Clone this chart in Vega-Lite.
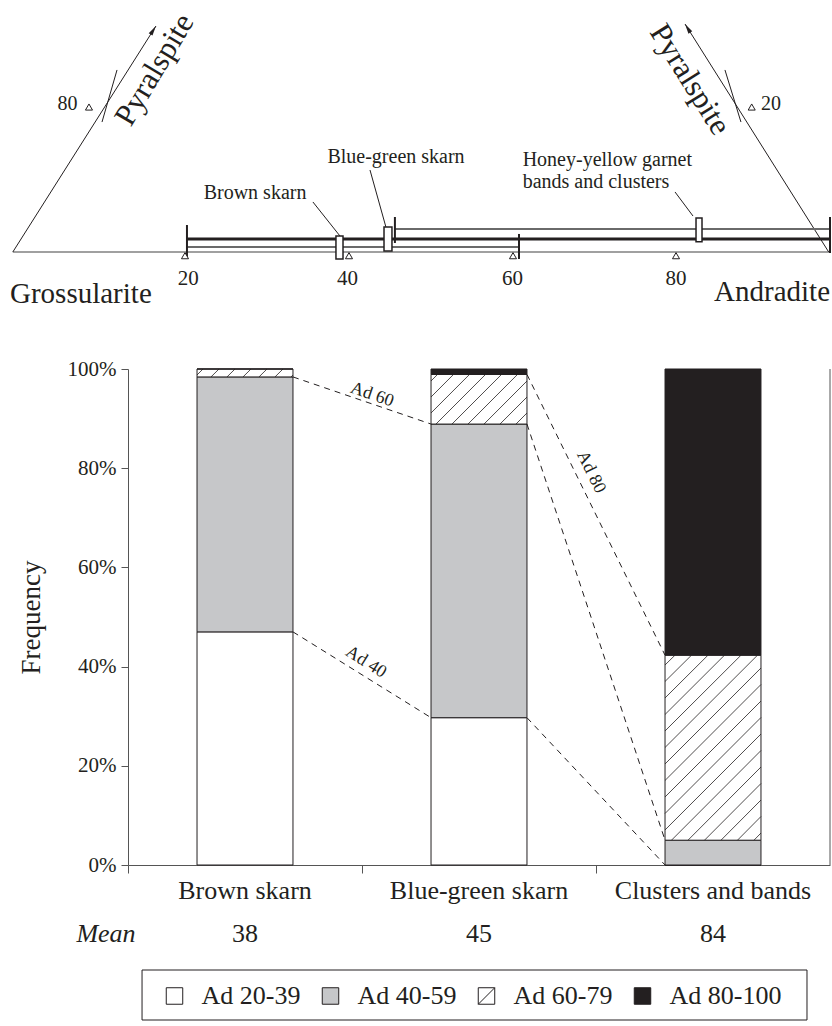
{
  "$schema": "https://vega.github.io/schema/vega-lite/v6.json",
  "width": 702,
  "height": 496,
  "autosize": {"type": "none"},
  "padding": {"left": 128, "top": 369, "right": 2, "bottom": 161},
  "background": "white",
  "config": {
    "view": {"stroke": null},
    "font": "Liberation Serif",
    "text": {"font": "Liberation Serif", "color": "#231f20"},
    "axis": {"labelFont": "Liberation Serif", "titleFont": "Liberation Serif", "labelColor": "#231f20", "titleColor": "#231f20", "domainColor": "#555555", "tickColor": "#555555", "grid": false}
  },
  "datasets": {
    "freq": [
      {"skarn": "Brown skarn", "cls": "Ad 20-39", "pct": 47.0},
      {"skarn": "Brown skarn", "cls": "Ad 40-59", "pct": 51.4},
      {"skarn": "Brown skarn", "cls": "Ad 60-79", "pct": 1.6},
      {"skarn": "Brown skarn", "cls": "Ad 80-100", "pct": 0},
      {"skarn": "Blue-green skarn", "cls": "Ad 20-39", "pct": 29.7},
      {"skarn": "Blue-green skarn", "cls": "Ad 40-59", "pct": 59.2},
      {"skarn": "Blue-green skarn", "cls": "Ad 60-79", "pct": 10.0},
      {"skarn": "Blue-green skarn", "cls": "Ad 80-100", "pct": 1.1},
      {"skarn": "Clusters and bands", "cls": "Ad 20-39", "pct": 0},
      {"skarn": "Clusters and bands", "cls": "Ad 40-59", "pct": 5.0},
      {"skarn": "Clusters and bands", "cls": "Ad 60-79", "pct": 37.3},
      {"skarn": "Clusters and bands", "cls": "Ad 80-100", "pct": 57.7}
    ],
    "classes": [
      {"cls": "Ad 20-39"}, {"cls": "Ad 40-59"}, {"cls": "Ad 60-79"}, {"cls": "Ad 80-100"}
    ],
    "means": [
      {"skarn": "Brown skarn", "mean": 38},
      {"skarn": "Blue-green skarn", "mean": 45},
      {"skarn": "Clusters and bands", "mean": 84}
    ],
    "bounds": [
      {"b": "Ad 40", "x": 0.705, "y": 47.0, "x2": 1.295, "y2": 29.7},
      {"b": "Ad 40", "x": 1.705, "y": 29.7, "x2": 2.295, "y2": 0},
      {"b": "Ad 60", "x": 0.705, "y": 98.4, "x2": 1.295, "y2": 88.9},
      {"b": "Ad 60", "x": 1.705, "y": 88.9, "x2": 2.295, "y2": 5.0},
      {"b": "Ad 80", "x": 1.705, "y": 98.9, "x2": 2.295, "y2": 42.3}
    ],
    "boundLabels": [
      {"t": "Ad 40", "x": 1.017, "y": 40.9, "tilt": 32},
      {"t": "Ad 60", "x": 1.043, "y": 94.8, "tilt": 19},
      {"t": "Ad 80", "x": 1.979, "y": 79.2, "tilt": 64}
    ],
    "hatch": [
      {"x": 0.2949, "y": 98.79, "x2": 0.3205, "y2": 100},
      {"x": 0.3547, "y": 98.4, "x2": 0.3889, "y2": 100},
      {"x": 0.4231, "y": 98.4, "x2": 0.4573, "y2": 100},
      {"x": 0.4915, "y": 98.4, "x2": 0.5256, "y2": 100},
      {"x": 0.5598, "y": 98.4, "x2": 0.594, "y2": 100},
      {"x": 0.6282, "y": 98.4, "x2": 0.6624, "y2": 100},
      {"x": 0.6966, "y": 98.4, "x2": 0.7051, "y2": 98.79},
      {"x": 1.2949, "y": 97.58, "x2": 1.3226, "y2": 98.9},
      {"x": 1.2949, "y": 94.35, "x2": 1.391, "y2": 98.9},
      {"x": 1.2949, "y": 91.13, "x2": 1.4594, "y2": 98.9},
      {"x": 1.3162, "y": 88.9, "x2": 1.5278, "y2": 98.9},
      {"x": 1.3846, "y": 88.9, "x2": 1.5962, "y2": 98.9},
      {"x": 1.453, "y": 88.9, "x2": 1.6645, "y2": 98.9},
      {"x": 1.5214, "y": 88.9, "x2": 1.7051, "y2": 97.58},
      {"x": 1.5897, "y": 88.9, "x2": 1.7051, "y2": 94.35},
      {"x": 1.6581, "y": 88.9, "x2": 1.7051, "y2": 91.13},
      {"x": 2.2949, "y": 40.32, "x2": 2.3376, "y2": 42.3},
      {"x": 2.2949, "y": 37.0, "x2": 2.4081, "y2": 42.3},
      {"x": 2.2949, "y": 33.67, "x2": 2.4786, "y2": 42.3},
      {"x": 2.2949, "y": 30.34, "x2": 2.5491, "y2": 42.3},
      {"x": 2.2949, "y": 27.02, "x2": 2.6197, "y2": 42.3},
      {"x": 2.2949, "y": 23.69, "x2": 2.6902, "y2": 42.3},
      {"x": 2.2949, "y": 20.36, "x2": 2.7051, "y2": 39.72},
      {"x": 2.2949, "y": 17.04, "x2": 2.7051, "y2": 36.39},
      {"x": 2.2949, "y": 13.71, "x2": 2.7051, "y2": 33.06},
      {"x": 2.2949, "y": 10.38, "x2": 2.7051, "y2": 29.74},
      {"x": 2.2949, "y": 7.06, "x2": 2.7051, "y2": 26.41},
      {"x": 2.3226, "y": 5.0, "x2": 2.7051, "y2": 23.08},
      {"x": 2.3932, "y": 5.0, "x2": 2.7051, "y2": 19.76},
      {"x": 2.4637, "y": 5.0, "x2": 2.7051, "y2": 16.43},
      {"x": 2.5342, "y": 5.0, "x2": 2.7051, "y2": 13.1},
      {"x": 2.6047, "y": 5.0, "x2": 2.7051, "y2": 9.78},
      {"x": 2.6752, "y": 5.0, "x2": 2.7051, "y2": 6.45}
    ],
    "baseline": [{"x": -1, "x2": 98.54, "y": 0}],
    "sides": [
      {"x": -1, "y": 0, "x2": 16.46, "y2": 27.56},
      {"x": 98.5, "y": 0, "x2": 80.98, "y2": 27.8},
      {"x": 9.88, "y": 15.85, "x2": 11.71, "y2": 22.2},
      {"x": 85.85, "y": 22.2, "x2": 87.8, "y2": 15.85},
      {"x": 38.9, "y": 1.95, "x2": 35.6, "y2": 6.1},
      {"x": 44.5, "y": 3.05, "x2": 42.56, "y2": 10.0},
      {"x": 81.95, "y": 4.39, "x2": 79.76, "y2": 7.32}
    ],
    "rangeThin": [
      {"x": 45.6, "x2": 98.54, "y": 2.8},
      {"x": 20.24, "x2": 60.73, "y": 0.61}
    ],
    "rangeThick": [{"x": 20.24, "x2": 98.54, "y": 1.585}],
    "rangeEnds": [
      {"x": 20.24, "y": -0.61, "y2": 3.29},
      {"x": 45.6, "y": 1.1, "y2": 4.27},
      {"x": 60.73, "y": -0.85, "y2": 2.2},
      {"x": 98.66, "y": -0.12, "y2": 4.27}
    ],
    "meanBoxes": [
      {"x": 38.41, "x2": 39.27, "y": -0.85, "y2": 1.95},
      {"x": 44.27, "x2": 45.24, "y": 0.12, "y2": 3.05},
      {"x": 82.32, "x2": 83.05, "y": 1.26, "y2": 4.15}
    ],
    "triMarks": [
      {"x": 20, "y": -0.45}, {"x": 40, "y": -0.45}, {"x": 60, "y": -0.45}, {"x": 79.88, "y": -0.45},
      {"x": 8.29, "y": 17.68}, {"x": 89.11, "y": 17.68}
    ],
    "arrows": [
      {"x": 16.13, "y": 27.05, "side": "left"},
      {"x": 81.3, "y": 27.29, "side": "right"}
    ],
    "notes": [
      {"x": 28.54, "y": 7.25, "t": "Brown skarn"},
      {"x": 45.73, "y": 11.59, "t": "Blue-green skarn"},
      {"x": 5.67, "y": 18.11, "t": "80"},
      {"x": 91.46, "y": 18.11, "t": "20"}
    ],
    "honey": [
      {"x": 61.18, "y": 11.28, "t": "Honey-yellow garnet"},
      {"x": 61.18, "y": 8.48, "t": "bands and clusters"}
    ],
    "scaleNums": [
      {"x": 20.4, "t": "20"}, {"x": 39.82, "t": "40"}, {"x": 59.94, "t": "60"}, {"x": 79.88, "t": "80"}
    ],
    "endMembers": [
      {"x": -1.34, "y": -5.1, "t": "Grossularite", "side": "left"},
      {"x": 98.66, "y": -4.88, "t": "Andradite", "side": "right"}
    ],
    "pyr": [
      {"x": 16.34, "y": 22.2, "t": "Pyralspite", "side": "left"},
      {"x": 81.52, "y": 21.0, "t": "Pyralspite", "side": "right"}
    ]
  },
  "layer": [
    {"data": {"name": "baseline"}, "mark": {"type": "rule", "color": "#808080", "strokeWidth": 1.5},
     "encoding": {
       "x": {"field": "x", "type": "quantitative", "scale": {"domain": [13.049, 98.659], "nice": false, "zero": false}, "axis": null},
       "x2": {"field": "x2"},
       "y": {"field": "y", "type": "quantitative", "scale": {"domain": [-74.756, -14.268], "nice": false, "zero": false}, "axis": null}}},
    {"data": {"name": "sides"}, "mark": {"type": "rule", "color": "#231f20", "strokeWidth": 1},
     "encoding": {
       "x": {"field": "x", "type": "quantitative", "scale": {"domain": [13.049, 98.659], "nice": false, "zero": false}, "axis": null},
       "x2": {"field": "x2"},
       "y": {"field": "y", "type": "quantitative", "scale": {"domain": [-74.756, -14.268], "nice": false, "zero": false}, "axis": null},
       "y2": {"field": "y2"}}},
    {"data": {"name": "rangeThin"}, "mark": {"type": "rule", "color": "#6a6a6a", "strokeWidth": 2},
     "encoding": {
       "x": {"field": "x", "type": "quantitative", "scale": {"domain": [13.049, 98.659], "nice": false, "zero": false}, "axis": null},
       "x2": {"field": "x2"},
       "y": {"field": "y", "type": "quantitative", "scale": {"domain": [-74.756, -14.268], "nice": false, "zero": false}, "axis": null}}},
    {"data": {"name": "rangeThick"}, "mark": {"type": "rule", "color": "#231f20", "strokeWidth": 3},
     "encoding": {
       "x": {"field": "x", "type": "quantitative", "scale": {"domain": [13.049, 98.659], "nice": false, "zero": false}, "axis": null},
       "x2": {"field": "x2"},
       "y": {"field": "y", "type": "quantitative", "scale": {"domain": [-74.756, -14.268], "nice": false, "zero": false}, "axis": null}}},
    {"data": {"name": "rangeEnds"}, "mark": {"type": "rule", "color": "#231f20", "strokeWidth": 2},
     "encoding": {
       "x": {"field": "x", "type": "quantitative", "scale": {"domain": [13.049, 98.659], "nice": false, "zero": false}, "axis": null},
       "y": {"field": "y", "type": "quantitative", "scale": {"domain": [-74.756, -14.268], "nice": false, "zero": false}, "axis": null},
       "y2": {"field": "y2"}}},
    {"data": {"name": "meanBoxes"}, "mark": {"type": "rect", "fill": "white", "stroke": "#231f20", "strokeWidth": 1.5},
     "encoding": {
       "x": {"field": "x", "type": "quantitative", "scale": {"domain": [13.049, 98.659], "nice": false, "zero": false}, "axis": null},
       "x2": {"field": "x2"},
       "y": {"field": "y", "type": "quantitative", "scale": {"domain": [-74.756, -14.268], "nice": false, "zero": false}, "axis": null},
       "y2": {"field": "y2"}}},
    {"data": {"name": "triMarks"}, "mark": {"type": "point", "shape": "triangle-up", "size": 50, "filled": true, "fill": "white", "stroke": "#231f20", "strokeWidth": 1, "opacity": 1},
     "encoding": {
       "x": {"field": "x", "type": "quantitative", "scale": {"domain": [13.049, 98.659], "nice": false, "zero": false}, "axis": null},
       "y": {"field": "y", "type": "quantitative", "scale": {"domain": [-74.756, -14.268], "nice": false, "zero": false}, "axis": null}}},
    {"data": {"name": "arrows"}, "transform": [{"filter": "datum.side === 'left'"}],
     "mark": {"type": "point", "shape": "M0,-1L0.45,1L-0.45,1Z", "size": 100, "filled": true, "color": "#231f20", "opacity": 1, "angle": 32.3},
     "encoding": {
       "x": {"field": "x", "type": "quantitative", "scale": {"domain": [13.049, 98.659], "nice": false, "zero": false}, "axis": null},
       "y": {"field": "y", "type": "quantitative", "scale": {"domain": [-74.756, -14.268], "nice": false, "zero": false}, "axis": null}}},
    {"data": {"name": "arrows"}, "transform": [{"filter": "datum.side === 'right'"}],
     "mark": {"type": "point", "shape": "M0,-1L0.45,1L-0.45,1Z", "size": 100, "filled": true, "color": "#231f20", "opacity": 1, "angle": -32.3},
     "encoding": {
       "x": {"field": "x", "type": "quantitative", "scale": {"domain": [13.049, 98.659], "nice": false, "zero": false}, "axis": null},
       "y": {"field": "y", "type": "quantitative", "scale": {"domain": [-74.756, -14.268], "nice": false, "zero": false}, "axis": null}}},
    {"data": {"name": "notes"}, "mark": {"type": "text", "font": "Liberation Serif", "fontSize": 20, "align": "center", "baseline": "middle"},
     "encoding": {
       "x": {"field": "x", "type": "quantitative", "scale": {"domain": [13.049, 98.659], "nice": false, "zero": false}, "axis": null},
       "y": {"field": "y", "type": "quantitative", "scale": {"domain": [-74.756, -14.268], "nice": false, "zero": false}, "axis": null},
       "text": {"field": "t"}}},
    {"data": {"name": "honey"}, "mark": {"type": "text", "font": "Liberation Serif", "fontSize": 20, "align": "left", "baseline": "middle"},
     "encoding": {
       "x": {"field": "x", "type": "quantitative", "scale": {"domain": [13.049, 98.659], "nice": false, "zero": false}, "axis": null},
       "y": {"field": "y", "type": "quantitative", "scale": {"domain": [-74.756, -14.268], "nice": false, "zero": false}, "axis": null},
       "text": {"field": "t"}}},
    {"data": {"name": "scaleNums"}, "mark": {"type": "text", "font": "Liberation Serif", "fontSize": 21, "align": "center", "baseline": "middle"},
     "encoding": {
       "x": {"field": "x", "type": "quantitative", "scale": {"domain": [13.049, 98.659], "nice": false, "zero": false}, "axis": null},
       "y": {"datum": -3.25, "type": "quantitative", "scale": {"domain": [-74.756, -14.268], "nice": false, "zero": false}, "axis": null},
       "text": {"field": "t"}}},
    {"data": {"name": "endMembers"}, "transform": [{"filter": "datum.side === 'left'"}],
     "mark": {"type": "text", "font": "Liberation Serif", "fontSize": 29, "align": "left", "baseline": "middle"},
     "encoding": {
       "x": {"field": "x", "type": "quantitative", "scale": {"domain": [13.049, 98.659], "nice": false, "zero": false}, "axis": null},
       "y": {"field": "y", "type": "quantitative", "scale": {"domain": [-74.756, -14.268], "nice": false, "zero": false}, "axis": null},
       "text": {"field": "t"}}},
    {"data": {"name": "endMembers"}, "transform": [{"filter": "datum.side === 'right'"}],
     "mark": {"type": "text", "font": "Liberation Serif", "fontSize": 29, "align": "right", "baseline": "middle"},
     "encoding": {
       "x": {"field": "x", "type": "quantitative", "scale": {"domain": [13.049, 98.659], "nice": false, "zero": false}, "axis": null},
       "y": {"field": "y", "type": "quantitative", "scale": {"domain": [-74.756, -14.268], "nice": false, "zero": false}, "axis": null},
       "text": {"field": "t"}}},
    {"data": {"name": "pyr"}, "transform": [{"filter": "datum.side === 'left'"}],
     "mark": {"type": "text", "font": "Liberation Serif", "fontSize": 31, "align": "center", "baseline": "middle", "angle": -59},
     "encoding": {
       "x": {"field": "x", "type": "quantitative", "scale": {"domain": [13.049, 98.659], "nice": false, "zero": false}, "axis": null},
       "y": {"field": "y", "type": "quantitative", "scale": {"domain": [-74.756, -14.268], "nice": false, "zero": false}, "axis": null},
       "text": {"field": "t"}}},
    {"data": {"name": "pyr"}, "transform": [{"filter": "datum.side === 'right'"}],
     "mark": {"type": "text", "font": "Liberation Serif", "fontSize": 31, "align": "center", "baseline": "middle", "angle": 58},
     "encoding": {
       "x": {"field": "x", "type": "quantitative", "scale": {"domain": [13.049, 98.659], "nice": false, "zero": false}, "axis": null},
       "y": {"field": "y", "type": "quantitative", "scale": {"domain": [-74.756, -14.268], "nice": false, "zero": false}, "axis": null},
       "text": {"field": "t"}}},
    {"data": {"name": "freq"},
     "mark": {"type": "bar", "width": {"band": 0.41}, "stroke": "#231f20", "strokeWidth": 1},
     "encoding": {
       "x": {"field": "skarn", "type": "nominal", "sort": ["Brown skarn", "Blue-green skarn", "Clusters and bands"],
             "scale": {"paddingInner": 0, "paddingOuter": 0},
             "axis": {"orient": "bottom", "title": null, "ticks": false, "labelAngle": 0, "labelFontSize": 26, "labelPadding": 12, "labelLimit": 0, "domainWidth": 1}},
       "y": {"field": "pct", "type": "quantitative", "stack": "zero",
             "scale": {"domain": [0, 100], "nice": false},
             "axis": {"orient": "left", "values": [0, 20, 40, 60, 80, 100], "labelExpr": "datum.value + '%'", "title": "Frequency",
                      "tickSize": 7, "labelPadding": 5, "labelFontSize": 21, "titleFontSize": 27, "titleFontWeight": "normal", "titlePadding": 22}},
       "fill": {"field": "cls", "type": "nominal",
                "scale": {"domain": ["Ad 20-39", "Ad 40-59", "Ad 60-79", "Ad 80-100"], "range": ["#ffffff", "#c6c7c9", "#ffffff", "#231f20"]},
                "legend": null},
       "order": {"field": "cls", "sort": "ascending"}
     }},
    {"data": {"name": "means"},
     "mark": {"type": "text", "font": "Liberation Serif", "fontSize": 26, "align": "center", "baseline": "middle"},
     "encoding": {
       "x": {"field": "skarn", "type": "nominal", "sort": ["Brown skarn", "Blue-green skarn", "Clusters and bands"], "scale": {"paddingInner": 0, "paddingOuter": 0}, "axis": null},
       "y": {"datum": -13.9, "type": "quantitative", "scale": {"domain": [0, 100], "nice": false}, "axis": null},
       "text": {"field": "mean"}
     }},
    {"data": {"name": "hatch"}, "mark": {"type": "rule", "color": "#231f20", "strokeWidth": 0.8},
     "encoding": {
       "x": {"field": "x", "type": "quantitative", "scale": {"domain": [0, 3], "nice": false, "zero": false}, "axis": null},
       "x2": {"field": "x2"},
       "y": {"field": "y", "type": "quantitative", "scale": {"domain": [0, 100], "nice": false, "zero": false}, "axis": null},
       "y2": {"field": "y2"}}},
    {"data": {"name": "bounds"}, "mark": {"type": "rule", "color": "#231f20", "strokeWidth": 1, "strokeDash": [6, 5]},
     "encoding": {
       "x": {"field": "x", "type": "quantitative", "scale": {"domain": [0, 3], "nice": false, "zero": false}, "axis": null},
       "x2": {"field": "x2"},
       "y": {"field": "y", "type": "quantitative", "scale": {"domain": [0, 100], "nice": false, "zero": false}, "axis": null},
       "y2": {"field": "y2"}}},
    {"data": {"name": "boundLabels"}, "mark": {"type": "text", "font": "Liberation Serif", "fontSize": 18, "align": "center", "baseline": "middle"},
     "encoding": {
       "x": {"field": "x", "type": "quantitative", "scale": {"domain": [0, 3], "nice": false, "zero": false}, "axis": null},
       "y": {"field": "y", "type": "quantitative", "scale": {"domain": [0, 100], "nice": false, "zero": false}, "axis": null},
       "angle": {"field": "tilt", "type": "quantitative", "scale": null},
       "text": {"field": "t"}}},
    {"data": {"values": [{"edge": "right"}]}, "mark": {"type": "rule", "color": "#555555", "strokeWidth": 1},
     "encoding": {
       "x": {"datum": 3, "type": "quantitative", "scale": {"domain": [0, 3], "nice": false, "zero": false},
             "axis": {"orient": "bottom", "values": [0, 1, 2], "labels": false, "domain": false, "ticks": true, "tickSize": 8, "title": null}},
       "y": {"datum": 0, "type": "quantitative", "scale": {"domain": [0, 100], "nice": false, "zero": false}, "axis": null},
       "y2": {"datum": 100}}},
    {"data": {"values": [{"label": "Mean"}]}, "mark": {"type": "text", "font": "Liberation Serif", "fontSize": 26, "fontStyle": "italic", "align": "center", "baseline": "middle"},
     "encoding": {
       "x": {"datum": -0.094, "type": "quantitative", "scale": {"domain": [0, 3], "nice": false, "zero": false}, "axis": null},
       "y": {"datum": -13.9, "type": "quantitative", "scale": {"domain": [0, 100], "nice": false, "zero": false}, "axis": null},
       "text": {"field": "label"}}},
    {"data": {"values": [{"item": "legend frame"}]}, "mark": {"type": "rect", "fill": "transparent", "stroke": "#231f20", "strokeWidth": 1},
     "encoding": {
       "x": {"datum": 0.06, "type": "quantitative", "scale": {"domain": [0, 3], "nice": false, "zero": false}, "axis": null},
       "x2": {"datum": 2.9017},
       "y": {"datum": -21.17, "type": "quantitative", "scale": {"domain": [0, 100], "nice": false, "zero": false}, "axis": null},
       "y2": {"datum": -31.25}}},
    {"data": {"name": "classes"}, "mark": {"type": "point", "filled": true, "size": 272, "stroke": "#231f20", "strokeWidth": 1, "opacity": 1},
     "encoding": {
       "x": {"field": "cls", "type": "nominal", "scale": {"type": "point", "padding": 0, "domain": ["Ad 20-39", "Ad 40-59", "Ad 60-79", "Ad 80-100"], "range": [46.5, 514.5]}, "axis": null},
       "y": {"datum": -26.41, "type": "quantitative", "scale": {"domain": [0, 100], "nice": false, "zero": false}, "axis": null},
       "fill": {"field": "cls", "type": "nominal",
                "scale": {"domain": ["Ad 20-39", "Ad 40-59", "Ad 60-79", "Ad 80-100"], "range": ["#ffffff", "#c6c7c9", "#ffffff", "#231f20"]},
                "legend": null},
       "shape": {"field": "cls", "type": "nominal",
                 "scale": {"domain": ["Ad 20-39", "Ad 40-59", "Ad 60-79", "Ad 80-100"], "range": ["square", "square", "M-1,-1H1V1H-1ZM-1,1L1,-1", "square"]},
                 "legend": null}}},
    {"data": {"name": "classes"}, "mark": {"type": "text", "font": "Liberation Serif", "fontSize": 26, "align": "left", "baseline": "middle", "dx": 27},
     "encoding": {
       "x": {"field": "cls", "type": "nominal", "scale": {"type": "point", "padding": 0, "domain": ["Ad 20-39", "Ad 40-59", "Ad 60-79", "Ad 80-100"], "range": [46.5, 514.5]}, "axis": null},
       "y": {"datum": -26.41, "type": "quantitative", "scale": {"domain": [0, 100], "nice": false, "zero": false}, "axis": null},
       "text": {"field": "cls"}}}
  ],
  "resolve": {"scale": {"x": "independent", "y": "independent"}}
}
